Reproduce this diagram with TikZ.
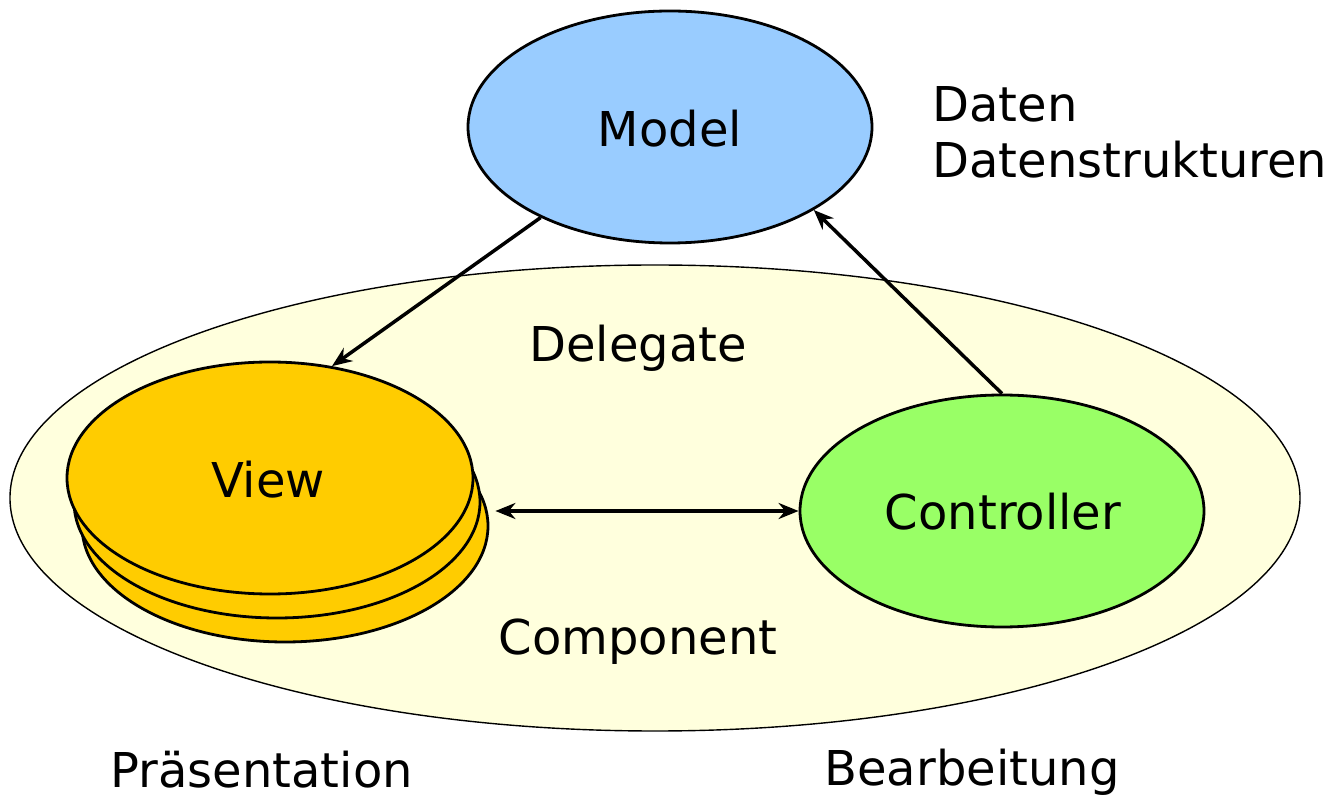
\documentclass[tikz,border=0pt]{standalone}
\usepackage{fontspec}
\setmainfont{DejaVu Sans}
\usetikzlibrary{shapes.geometric,arrows.meta,calc}

\definecolor{areafill}{HTML}{FFFFDD}
\definecolor{modelfill}{HTML}{99CCFF}
\definecolor{viewfill}{HTML}{FFCC00}
\definecolor{ctrlfill}{HTML}{99FF66}

\tikzset{
  blob/.style={ellipse, draw=black, line width=1.4pt, inner sep=0pt,
               minimum width=202pt, minimum height=116pt},
  label/.style={font=\fontsize{24}{29}\selectfont, inner sep=0pt},
  link/.style={line width=1.75pt, -{Stealth[length=10pt,width=8pt]}},
  twoway/.style={line width=1.75pt, {Stealth[length=10pt,width=8pt]}-{Stealth[length=10pt,width=8pt]}}
}

\begin{document}
\begin{tikzpicture}[x=0.5pt, y=-0.5pt]
  \useasboundingbox (0,0) rectangle (1340,796);

  % surrounding component area
  \node[ellipse, draw=black, line width=0.7pt, fill=areafill, inner sep=0pt,
        minimum width=645pt, minimum height=233pt] (area) at (655,498) {};

  % model
  \node[blob, fill=modelfill] (model) at (670,127) {};

  % stacked views, drawn back to front
  \node[blob, fill=viewfill, minimum width=203pt] (view3) at (285,526) {};
  \node[blob, fill=viewfill, minimum width=203pt] (view2) at (277,502) {};
  \node[blob, fill=viewfill, minimum width=203pt] (view) at (270,478) {};

  % controller
  \node[blob, fill=ctrlfill] (ctrl) at (1002,511) {};

  % labels
  \node[label, anchor=base] (tmodel) at (670,147) {Model};
  \node[label, anchor=base] (tview) at (268,498) {View};
  \node[label, anchor=base] (tctrl) at (1003,530) {Controller};
  \node[label, anchor=base] (tdel) at (638,362) {Delegate};
  \node[label, anchor=base] (tcomp) at (638,654) {Component};
  \node[label, anchor=base west] (tdaten) at (932,122) {Daten};
  \node[label, anchor=base west] (tstruct) at (932,178) {Datenstrukturen};
  \node[label, anchor=base west] (tpraes) at (110,787) {Präsentation};
  \node[label, anchor=base west] (tbearb) at (824,785) {Bearbeitung};

  % connectors
  \coordinate (vright) at ($(view3.east |- ctrl.west)+(6,0)$);
  \draw[link] (model.215.6) -- (view.61);
  \draw[link] (ctrl.north) -- (model.330);
  \draw[twoway] (vright) -- (ctrl.west);
\end{tikzpicture}
\end{document}
